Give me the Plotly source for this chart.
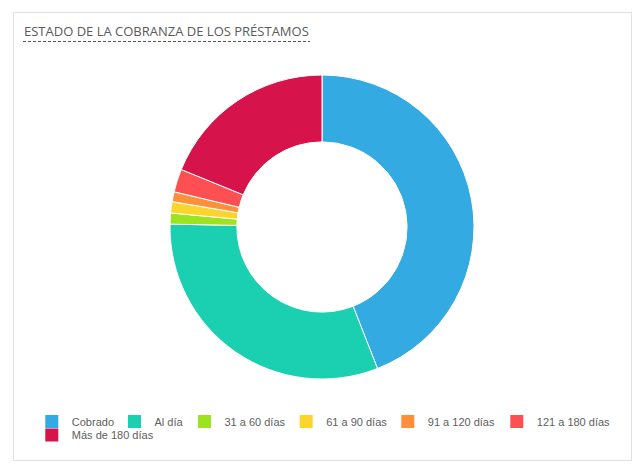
import plotly.graph_objects as go

labels = ["Cobrado", "Al día", "31 a 60 días", "61 a 90 días",
          "91 a 120 días", "121 a 180 días", "Más de 180 días"]
values = [44.05, 31.25, 1.17, 1.20, 1.05, 2.45, 18.83]
colors = ["#34aae2", "#1bcfb1", "#9de31f", "#fbd42c",
          "#fe8f3b", "#fe5052", "#d6134a"]
title_text = "ESTADO DE LA COBRANZA DE LOS PRÉSTAMOS"

W, H = 644, 476
T, B = 75, 97


def px(x):
    return x / W


def py(y):
    return (H - B - y) / (H - T - B)


# legend layout (pixel positions of each swatch's left edge, and its row)
swatch_left = [47.3, 130, 200, 301.7, 403.3, 512.3, 47.3]
swatch_row = [0, 0, 0, 0, 0, 0, 1]
row_top = [407, 420.5]

fig = go.Figure()
fig.add_trace(go.Pie(
    labels=labels, values=values, hole=0.56, sort=False,
    direction="clockwise", rotation=0,
    marker=dict(colors=colors, line=dict(color="white", width=1)),
    textinfo="none", hoverinfo="label+percent", showlegend=False,
))

legend_font = dict(family="Arial, Liberation Sans, sans-serif", size=11, color="#606060")
legend_layouts = {}
for i, (lab, col) in enumerate(zip(labels, colors)):
    key = "legend" if i == 0 else f"legend{i + 1}"
    fig.add_trace(go.Scatter(
        x=[None], y=[None], mode="markers", name=lab,
        marker=dict(symbol="square", size=13, color=col, line=dict(width=0)),
        legend=key, hoverinfo="skip",
    ))
    legend_layouts[key] = dict(
        orientation="h", x=px(swatch_left[i] - 15.5), y=py(row_top[swatch_row[i]]),
        xanchor="left", yanchor="top", font=legend_font,
        bgcolor="rgba(0,0,0,0)", borderwidth=0,
    )

fig.update_layout(
    width=W, height=H,
    margin=dict(l=0, r=0, t=T, b=B),
    paper_bgcolor="white", plot_bgcolor="white",
    xaxis=dict(visible=False), yaxis=dict(visible=False),
    annotations=[dict(
        text=title_text, x=px(22), y=py(31), xref="paper", yref="paper",
        xanchor="left", yanchor="middle", showarrow=False,
        font=dict(family="Open Sans, sans-serif", size=13, color="#5a5a5a"),
    )],
    shapes=[
        dict(type="rect", xref="paper", yref="paper",
             x0=px(13.5), x1=px(631.5), y0=py(12.5), y1=py(460.5),
             line=dict(color="#e0e0e0", width=1), fillcolor="rgba(0,0,0,0)", layer="below"),
        dict(type="line", xref="paper", yref="paper",
             x0=px(23), x1=px(310), y0=py(41.5), y1=py(41.5),
             line=dict(color="#555555", width=1, dash="3px,2px")),
    ],
    **legend_layouts,
)
fig.write_html("out.html")
